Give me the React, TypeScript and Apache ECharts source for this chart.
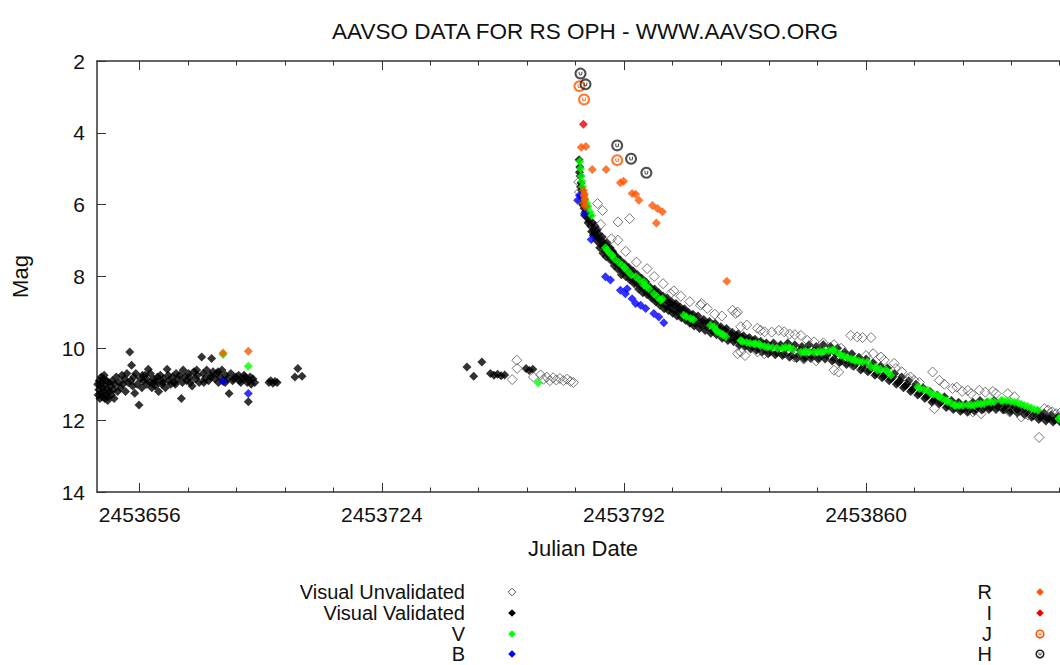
import React, { useEffect, useRef } from 'react';
import * as echarts from 'echarts';

const TITLE = 'AAVSO DATA FOR RS OPH - WWW.AAVSO.ORG';
const X_NAME = 'Julian Date';
const Y_NAME = 'Mag';
const JD0 = 2453000; // data below are [JD - JD0, magnitude]
const X_MIN = 2453644;
const X_MAX = 2453917;
const Y_MIN = 2;
const Y_MAX = 14;
const Y_STEP = 2;
const X_MAJOR_TICKS = [2453656, 2453724, 2453792, 2453860];
const X_MINOR_TICKS = [
  2453669.6, 2453683.2, 2453696.8, 2453710.4, 2453737.6, 2453751.2, 2453764.8, 2453778.4,
  2453805.6, 2453819.2, 2453832.8, 2453846.4, 2453873.6, 2453887.2, 2453900.8, 2453914.4,
];

const visualValidated: [number, number][] = [
  // quiescence before outburst
  [644.2, 11.0], [644.3, 11.3], [644.5, 11.15], [644.6, 10.9], [644.8, 11.4], [645.0, 11.05], [645.1, 11.25],
  [645.2, 10.8], [645.3, 10.95], [645.5, 11.35], [645.6, 11.1], [645.8, 10.85], [646.0, 11.2], [646.0, 10.75],
  [646.2, 11.4], [646.3, 11.0], [646.5, 11.3], [646.7, 10.9], [646.9, 11.15], [647.0, 11.45], [647.1, 11.35],
  [647.3, 10.95], [647.5, 11.2], [647.8, 11.05], [648.0, 11.3], [648.3, 10.9], [648.6, 11.15], [648.8, 11.4],
  [649.0, 11.0], [649.4, 10.8], [649.8, 11.2], [650.2, 10.95], [650.6, 11.1], [651.0, 10.75], [651.3, 11.0],
  [651.7, 10.85], [652.0, 11.2], [652.4, 10.7], [652.8, 10.95], [653.2, 10.1], [653.5, 10.9], [653.7, 10.47],
  [654.0, 11.05], [654.3, 10.8], [654.6, 11.25], [654.9, 10.7], [655.3, 11.0], [655.8, 11.58], [656.2, 10.85],
  [656.6, 11.1], [656.8, 10.75], [657.0, 10.9], [657.5, 10.75], [657.8, 10.85], [658.0, 11.0], [658.4, 10.58],
  [658.9, 10.95], [659.0, 10.7], [659.4, 11.1], [659.9, 10.85], [660.0, 10.95], [660.4, 11.05], [660.9, 10.9],
  [661.0, 10.8], [661.3, 11.2], [661.8, 10.75], [662.2, 11.0], [662.5, 10.95], [662.7, 10.85], [663.2, 11.1],
  [663.7, 10.58], [664.0, 10.75], [664.2, 10.9], [664.7, 11.0], [665.2, 10.8], [665.7, 10.95], [666.0, 11.0],
  [666.2, 10.7], [666.7, 10.85], [667.2, 10.75], [667.7, 11.4], [668.0, 10.95], [668.2, 10.6], [668.7, 10.8],
  [669.2, 10.9], [669.7, 10.7], [670.0, 10.8], [670.2, 10.95], [670.7, 11.05], [671.2, 10.65], [671.7, 10.85],
  [672.0, 10.6], [672.2, 10.75], [672.7, 10.95], [673.4, 10.24], [673.8, 10.7], [674.0, 10.95], [674.3, 10.85],
  [674.8, 10.6], [675.3, 10.9], [675.8, 10.75], [676.0, 10.8], [676.2, 10.28], [676.6, 10.65], [677.1, 10.85],
  [677.6, 10.7], [678.0, 10.65], [678.1, 10.95], [678.6, 10.8], [679.1, 10.6], [679.6, 10.9], [680.0, 10.95],
  [680.1, 10.75], [680.6, 10.85], [681.1, 11.26], [681.6, 10.7], [682.1, 10.9], [682.5, 10.85], [683.0, 10.8],
  [683.8, 10.75], [684.0, 10.9], [684.4, 10.95], [685.0, 10.85], [685.3, 10.75], [685.6, 10.8], [686.2, 10.95],
  [686.5, 11.49], [686.8, 10.9], [687.0, 10.8], [687.3, 11.0], [687.8, 10.85], [688.3, 10.95], [692.3, 10.95],
  [692.8, 10.9], [693.4, 10.97], [694.0, 10.92], [694.6, 10.95], [699.6, 10.8], [700.4, 10.56], [701.6, 10.78],
  // just before outburst
  [747.9, 10.52], [749.8, 10.78], [752.1, 10.38], [754.5, 10.7], [755.5, 10.75], [756.5, 10.72], [757.5, 10.76],
  [758.5, 10.74], [764.5, 10.56], [765.4, 10.62], [766.4, 10.58],
  // decline
  [779.4, 4.75], [779.5, 5.1], [779.6, 4.95], [779.7, 5.2], [779.8, 5.5], [779.9, 5.4], [780.0, 5.75],
  [780.1, 5.6], [780.3, 5.8], [780.4, 6.0], [780.5, 5.95], [780.7, 5.85], [780.8, 6.1], [781.0, 6.3],
  [781.2, 6.2], [781.4, 6.05], [781.7, 6.35], [781.9, 6.5], [782.2, 6.45], [782.4, 6.3], [782.7, 6.6],
  [782.9, 6.75], [783.2, 6.5], [783.4, 6.85], [783.6, 6.75], [783.9, 6.6], [784.1, 6.85], [784.3, 7.0],
  [784.5, 6.7], [784.8, 6.8], [785.0, 6.95], [785.2, 7.2], [785.4, 7.1], [785.7, 7.0], [785.9, 6.9],
  [786.1, 7.35], [786.3, 7.15], [786.6, 7.1], [786.8, 7.3], [787.0, 7.45], [787.2, 7.05], [787.5, 7.2],
  [787.7, 7.4], [788.1, 7.2], [788.3, 7.55], [788.6, 7.5], [788.8, 7.3], [789.0, 7.35], [789.3, 7.7],
  [789.5, 7.6], [789.8, 7.5], [790.0, 7.45], [790.3, 7.8], [790.5, 7.7], [790.8, 7.6], [791.0, 7.55],
  [791.3, 7.95], [791.6, 7.85], [791.9, 7.7], [792.2, 7.65], [792.5, 8.0], [792.8, 7.9], [793.1, 7.8],
  [793.4, 7.75], [793.7, 8.1], [794.0, 8.05], [794.3, 7.9], [794.6, 7.85], [794.9, 8.2], [795.2, 8.15],
  [795.5, 8.05], [795.8, 7.95], [796.1, 8.35], [796.4, 8.25], [796.7, 8.1], [797.0, 8.05], [797.3, 8.45],
  [797.6, 8.35], [797.9, 8.2], [798.2, 8.15], [798.5, 8.5], [798.8, 8.45], [799.1, 8.35], [799.4, 8.3],
  [799.7, 8.6], [800.0, 8.55], [800.3, 8.4], [800.6, 8.35], [800.9, 8.7], [801.2, 8.65], [801.5, 8.5],
  [801.8, 8.45], [802.1, 8.8], [802.4, 8.72], [802.7, 8.6], [803.0, 8.55], [803.3, 8.9], [803.6, 8.8],
  [803.9, 8.65], [804.2, 8.6], [804.5, 8.95], [804.8, 8.85], [805.1, 8.75], [805.4, 8.7], [805.7, 9.02],
  [806.0, 8.95], [806.3, 8.8], [806.6, 8.75], [806.9, 9.1], [807.2, 9.0], [807.5, 8.9], [807.8, 8.85],
  [808.1, 9.15], [808.4, 9.1], [808.7, 8.95], [809.0, 8.9], [809.3, 9.22], [809.6, 9.15], [809.9, 9.05],
  [810.2, 9.0], [810.5, 9.3], [810.8, 9.25], [811.1, 9.1], [811.4, 9.05], [811.7, 9.38], [812.0, 9.3],
  [812.4, 9.2], [812.8, 9.1], [813.2, 9.45], [813.6, 9.35], [814.0, 9.25], [814.4, 9.2], [814.8, 9.5],
  [815.2, 9.4], [815.6, 9.3], [816.0, 9.25], [816.4, 9.58], [816.8, 9.5], [817.2, 9.4], [817.6, 9.3],
  [818.0, 9.62], [818.4, 9.55], [818.8, 9.45], [819.2, 9.4], [819.6, 9.72], [820.0, 9.65], [820.4, 9.5],
  [820.8, 9.45], [821.2, 9.78], [821.6, 9.7], [822.0, 9.6], [822.4, 9.55], [822.8, 9.82], [823.2, 9.75],
  [823.6, 9.65], [824.0, 9.6], [824.4, 9.92], [824.8, 9.85], [825.2, 9.7], [825.6, 9.65], [826.0, 9.95],
  [826.4, 9.9], [826.8, 9.75], [827.2, 9.7], [827.6, 10.02], [828.0, 9.95], [828.4, 9.8], [828.8, 9.75],
  [829.2, 10.05], [829.6, 10.0], [830.0, 9.85], [830.4, 9.8], [830.8, 10.1], [831.2, 10.02], [831.6, 9.9],
  [832.0, 9.85], [832.5, 10.15], [833.0, 10.1], [833.5, 9.95], [834.0, 9.85], [834.5, 10.18], [835.0, 10.12],
  [835.5, 9.98], [836.0, 9.9], [836.5, 10.2], [837.0, 10.15], [837.5, 10.0], [838.0, 9.85], [838.5, 10.25],
  [839.0, 10.2], [839.5, 10.0], [840.0, 9.9], [840.5, 10.28], [841.0, 10.2], [841.5, 10.05], [842.0, 9.95],
  [842.5, 10.3], [843.0, 10.25], [843.5, 10.05], [844.0, 9.9], [844.5, 10.28], [845.0, 10.22], [845.5, 10.05],
  [846.0, 9.95], [846.5, 10.3], [847.0, 10.25], [847.5, 10.05], [848.0, 9.9], [848.5, 10.3], [849.0, 10.2],
  [849.5, 10.1], [850.0, 9.95], [850.5, 10.35], [851.0, 10.3], [851.5, 10.15], [852.0, 10.0], [852.5, 10.4],
  [853.0, 10.35], [853.5, 10.2], [854.0, 10.1], [854.5, 10.45], [855.0, 10.4], [855.5, 10.3], [856.0, 10.15],
  [856.5, 10.5], [857.0, 10.45], [857.5, 10.35], [858.0, 10.25], [858.5, 10.6], [859.0, 10.55], [859.5, 10.45],
  [860.0, 10.3], [860.5, 10.65], [861.0, 10.6], [861.5, 10.5], [862.0, 10.4], [862.5, 10.75], [863.0, 10.7],
  [863.5, 10.6], [864.0, 10.5], [864.5, 10.82], [865.0, 10.78], [865.5, 10.7], [866.0, 10.55], [866.5, 10.9],
  [867.0, 10.85], [867.5, 10.8], [868.0, 10.7], [868.5, 11.0], [869.0, 10.95], [869.5, 10.9], [870.0, 10.8],
  [870.5, 11.1], [871.0, 11.05], [871.5, 11.0], [872.0, 10.9], [872.5, 11.2], [873.0, 11.15], [873.5, 11.1],
  [874.0, 11.0], [874.5, 11.3], [875.0, 11.25], [875.5, 11.2], [876.0, 11.1], [876.5, 11.4], [877.0, 11.35],
  [877.5, 11.3], [878.0, 11.2], [878.5, 11.5], [879.0, 11.45], [879.5, 11.4], [880.0, 11.3], [880.5, 11.55],
  [881.0, 11.5], [881.5, 11.45], [882.0, 11.35], [882.5, 11.65], [883.0, 11.6], [883.5, 11.55], [884.0, 11.45],
  [884.5, 11.7], [885.0, 11.65], [885.5, 11.6], [886.0, 11.5], [886.5, 11.75], [887.0, 11.7], [887.5, 11.65],
  [888.0, 11.55], [888.5, 11.78], [889.0, 11.72], [889.5, 11.6], [890.0, 11.5], [890.5, 11.75], [891.0, 11.7],
  [891.5, 11.6], [892.0, 11.45], [892.5, 11.72], [893.0, 11.68], [893.5, 11.6], [894.0, 11.5], [894.5, 11.7],
  [895.0, 11.65], [895.5, 11.55], [896.0, 11.45], [896.5, 11.7], [897.0, 11.62], [897.5, 11.55], [898.0, 11.5],
  [898.5, 11.72], [899.0, 11.7], [899.5, 11.6], [900.0, 11.55], [900.5, 11.78], [901.0, 11.72], [901.5, 11.65],
  [902.0, 11.6], [902.5, 11.8], [903.0, 11.75], [903.5, 11.7], [904.0, 11.62], [904.5, 11.85], [905.0, 11.8],
  [905.5, 11.75], [906.0, 11.7], [906.5, 11.92], [907.0, 11.88], [907.5, 11.82], [908.0, 11.75], [908.5, 11.98],
  [909.0, 11.92], [909.5, 11.88], [910.0, 11.8], [910.5, 12.02], [911.0, 11.95], [911.5, 11.92], [912.0, 11.85],
  [912.5, 12.05], [913.0, 12.0], [913.5, 11.95], [914.0, 11.9], [914.5, 12.05], [915.0, 11.98], [915.5, 11.92],
  [916.0, 11.85], [916.5, 12.0], [917.0, 11.92],
];

const visualUnvalidated: [number, number][] = [
  [760.6, 10.87], [761.9, 10.33], [762.0, 10.56], [766.6, 10.8], [768.6, 10.74], [769.4, 10.86], [770.3, 10.8],
  [771.2, 10.9], [772.1, 10.82], [773.0, 10.88], [774.0, 10.84], [775.0, 10.9], [776.0, 10.86], [777.0, 10.92],
  [777.8, 10.95],
  [779.3, 5.37], [779.5, 5.65], [780.2, 5.9], [784.6, 5.97], [786.0, 6.16], [790.3, 6.48], [793.6, 6.39],
  [790.3, 6.99], [785.5, 6.55], [788.5, 6.95], [792.5, 7.3], [795.5, 7.6], [798.5, 7.78], [800.5, 8.0],
  [803.0, 8.2], [805.1, 8.48], [806.0, 8.4], [808.0, 8.55], [810.5, 8.7], [813.5, 8.8], [813.8, 8.75],
  [815.4, 8.89], [817.5, 9.05], [819.5, 9.1], [822.5, 8.94], [823.4, 9.03], [823.9, 8.99], [824.8, 9.4],
  [826.5, 9.35], [829.5, 9.44], [830.4, 9.5], [831.5, 9.54], [833.5, 9.55], [835.5, 9.5], [837.0, 9.54],
  [838.5, 9.6], [840.0, 9.62], [841.7, 9.64], [843.5, 9.78], [845.4, 9.82], [855.7, 9.64], [857.5, 9.68],
  [859.0, 9.7], [861.4, 9.7], [848.0, 9.85], [851.0, 9.9], [853.0, 10.0], [823.9, 10.15], [824.8, 10.1],
  [826.0, 10.2], [829.5, 10.1], [831.4, 10.15], [837.9, 10.15], [839.8, 10.24], [842.5, 10.3], [846.0, 10.35],
  [851.0, 10.61], [852.3, 10.66], [856.0, 10.45], [858.0, 10.5], [860.0, 10.2], [862.0, 10.15], [864.2, 10.24],
  [865.1, 10.33], [867.9, 10.42], [868.4, 10.56], [870.0, 10.65], [871.7, 10.84], [872.5, 10.8], [873.5, 10.89],
  [875.0, 10.95], [878.7, 10.66], [880.6, 10.89], [879.2, 11.68], [882.0, 11.0], [884.3, 11.12], [885.5, 11.08],
  [887.0, 11.2], [888.6, 11.17], [889.5, 11.26], [891.8, 11.17], [893.5, 11.22], [895.6, 11.2], [896.5, 11.26],
  [890.0, 11.77], [892.3, 11.82], [899.8, 11.26], [901.7, 11.35], [900.3, 11.77], [902.5, 11.72], [903.6, 11.91],
  [905.5, 11.86], [907.0, 11.8], [908.6, 12.48], [910.1, 11.68], [911.1, 11.72], [912.3, 11.77], [913.4, 11.82],
  [915.0, 11.75], [916.2, 11.9],
];

const bandV: [number, number][] = [
  [679.4, 10.17], [686.5, 10.5], [767.9, 10.96],
  [779.6, 4.8], [779.8, 5.0], [780.0, 5.2], [780.2, 5.35], [780.4, 5.5], [780.6, 5.7], [781.0, 5.85],
  [781.5, 5.95], [781.9, 6.05], [782.4, 6.2], [782.9, 6.3], [786.8, 7.2], [787.3, 7.27], [788.0, 7.35],
  [788.7, 7.41], [789.2, 7.5], [790.5, 7.6], [791.5, 7.69], [792.2, 7.75], [792.9, 7.83], [794.0, 7.95],
  [795.3, 8.01], [796.4, 8.1], [797.6, 8.15], [797.6, 8.24], [798.3, 8.28], [799.0, 8.34], [800.4, 8.48],
  [801.4, 8.57], [802.3, 8.66], [802.8, 8.62], [808.8, 9.08], [809.5, 9.12], [810.7, 9.17], [811.5, 9.2],
  [816.3, 9.36], [817.3, 9.4], [817.8, 9.48], [818.2, 9.54], [819.2, 9.59], [819.8, 9.62], [820.6, 9.68],
  [824.8, 9.78], [825.3, 9.82], [826.5, 9.84], [827.4, 9.86], [828.5, 9.87], [829.0, 9.87], [829.9, 9.87],
  [830.4, 9.92], [831.5, 9.94], [832.5, 9.96], [833.7, 9.98], [835.1, 10.0], [836.5, 10.0], [837.4, 9.98],
  [838.4, 9.98], [839.5, 10.02], [841.7, 10.1], [842.6, 10.1], [843.2, 10.1], [844.0, 10.1], [845.4, 10.1],
  [846.4, 10.1], [847.3, 10.1], [848.2, 10.08], [849.5, 10.07], [850.6, 10.05], [851.0, 10.05], [852.4, 10.15],
  [852.9, 10.19], [853.8, 10.22], [854.8, 10.26], [855.8, 10.3], [856.7, 10.33], [857.1, 10.33], [858.0, 10.36],
  [859.0, 10.38], [860.4, 10.38], [861.4, 10.52], [862.8, 10.52], [863.2, 10.61], [864.0, 10.58], [865.6, 10.61],
  [866.1, 10.66], [867.0, 10.75], [874.5, 11.08], [875.0, 11.12], [876.2, 11.15], [877.3, 11.17], [878.2, 11.26],
  [879.0, 11.28], [880.1, 11.31], [880.6, 11.35], [881.4, 11.4], [882.5, 11.45], [882.9, 11.49], [883.8, 11.52],
  [884.8, 11.59], [885.3, 11.59], [886.2, 11.59], [887.2, 11.59], [888.6, 11.58], [889.5, 11.58], [890.4, 11.59],
  [891.4, 11.54], [892.3, 11.55], [893.2, 11.54], [894.2, 11.49], [895.1, 11.5], [896.0, 11.49], [897.9, 11.45],
  [898.4, 11.45], [899.5, 11.46], [900.6, 11.48], [901.7, 11.5], [902.8, 11.52], [903.6, 11.56], [904.5, 11.59],
  [905.4, 11.62], [906.4, 11.66], [907.3, 11.7], [908.2, 11.72], [914.1, 11.96], [914.8, 11.91],
];

const bandB: [number, number][] = [
  [679.4, 10.92], [686.5, 11.26],
  [779.5, 5.74], [779.0, 5.88], [780.9, 6.25], [782.8, 6.97], [786.8, 8.01], [788.2, 8.1], [791.0, 8.38],
  [792.4, 8.48], [792.9, 8.34], [794.3, 8.62], [795.3, 8.75], [796.7, 8.8], [798.1, 8.89], [800.4, 9.03],
  [801.8, 9.13], [803.2, 9.29],
];

const bandR: [number, number][] = [
  [679.4, 10.13], [686.5, 10.08],
  [780.0, 4.4], [781.3, 4.38], [780.6, 5.6], [780.8, 5.75], [781.0, 5.85], [780.7, 5.95], [781.1, 6.05],
  [780.9, 5.7], [783.1, 5.02], [787.0, 5.02], [791.0, 5.39], [791.9, 5.35], [794.3, 5.69], [795.3, 5.71],
  [796.2, 5.88], [800.0, 6.02], [801.4, 6.11], [802.8, 6.2], [801.1, 6.51], [820.9, 8.13],
];

const bandI: [number, number][] = [[780.6, 3.76]];

const bandJ: [number, number][] = [[779.5, 2.7], [780.8, 3.07], [790.1, 4.76]];

const bandH: [number, number][] = [[779.8, 2.35], [781.2, 2.65], [790.1, 4.35], [794.0, 4.72], [798.3, 5.11]];

const LEGEND_LEFT = ['Visual Unvalidated', 'Visual Validated', 'V', 'B'];
const LEGEND_RIGHT = ['R', 'I', 'J', 'H'];

const RING_PATH =
  'M10 0A10 10 0 1 1 9.99 0ZM10 3.4A6.6 6.6 0 1 0 10.01 3.4ZM6.8 6.8H8.6V10A1.4 1.4 0 0 0 11.4 10V6.8H13.2V10A3.2 3.2 0 0 1 6.8 10Z';

const FONT = '"Liberation Sans", Arial, Helvetica, sans-serif';
const TEXT_COLOR = '#111';
const AXIS_COLOR = '#333';

const toJD = (arr: [number, number][]) => arr.map(([d, m]) => [JD0 + d, m]);

export default function App() {
  const ref = useRef<HTMLDivElement>(null);

  useEffect(() => {
    if (!ref.current) return;
    try {
      echarts.graphic.registerShape('ringmark', echarts.graphic.extendPath(RING_PATH, {}) as any);
    } catch (e) {
      /* already registered */
    }
    const chart = echarts.init(ref.current, undefined, { renderer: 'svg' });

    const diamond = (x: number, y: number, r: number, fill: string, stroke?: string) => ({
      type: 'polygon',
      shape: { points: [[x, y - r], [x + r, y], [x, y + r], [x - r, y]] },
      style: stroke ? { fill: 'none', stroke, lineWidth: 1 } : { fill },
      silent: true,
    });
    const ringMark = (x: number, y: number, color: string) => ({
      type: 'ringmark',
      x: x - 4.5,
      y: y - 4.5,
      scaleX: 0.45,
      scaleY: 0.45,
      style: { fill: color },
      silent: true,
    });
    const legText = (text: string, x: number, y: number) => ({
      type: 'text',
      x,
      y,
      style: {
        text,
        fill: TEXT_COLOR,
        font: `20px ${FONT}`,
        textAlign: 'right',
        textVerticalAlign: 'middle',
      },
      silent: true,
    });
    const rows = [592, 613, 634, 654];
    const legendGraphics: any[] = [];
    LEGEND_LEFT.forEach((t, i) => legendGraphics.push(legText(t, 465, rows[i])));
    LEGEND_RIGHT.forEach((t, i) => legendGraphics.push(legText(t, 992, rows[i])));
    legendGraphics.push(diamond(512, rows[0], 3.8, '', '#555'));
    legendGraphics.push(diamond(512, rows[1], 3.8, '#000'));
    legendGraphics.push(diamond(512, rows[2], 3.8, '#00ff00'));
    legendGraphics.push(diamond(512, rows[3], 3.8, '#0000ff'));
    legendGraphics.push(diamond(1040, rows[0], 3.8, '#ff5500'));
    legendGraphics.push(diamond(1040, rows[1], 3.8, '#ee0000'));
    legendGraphics.push(ringMark(1040, rows[2], '#ff5500'));
    legendGraphics.push(ringMark(1040, rows[3], '#222'));

    const xCommon = {
      type: 'value',
      min: X_MIN,
      max: X_MAX,
      splitLine: { show: false },
    };

    const scatter = (name: string, data: [number, number][], extra: any) => ({
      name,
      type: 'scatter',
      data: toJD(data),
      silent: true,
      emphasis: { disabled: true },
      ...extra,
    });

    chart.setOption({
      animation: false,
      title: {
        text: TITLE,
        left: 580,
        top: 15,
        textAlign: 'center',
        textStyle: { fontFamily: FONT, fontSize: 22.5, fontWeight: 'normal', color: TEXT_COLOR },
      },
      grid: { left: 97, right: 11, top: 61, bottom: 173, show: false },
      xAxis: [
        {
          ...xCommon,
          position: 'bottom',
          name: X_NAME,
          nameLocation: 'middle',
          nameGap: 45,
          nameTextStyle: { fontFamily: FONT, fontSize: 22, color: TEXT_COLOR },
          axisLine: { show: true, lineStyle: { color: AXIS_COLOR, width: 1.5 } },
          axisTick: {
            show: true,
            inside: true,
            length: 9,
            customValues: X_MAJOR_TICKS,
            lineStyle: { color: AXIS_COLOR, width: 1 },
          },
          axisLabel: {
            show: true,
            margin: 12,
            customValues: X_MAJOR_TICKS,
            formatter: (v: number) => String(Math.round(v)),
            fontFamily: FONT,
            fontSize: 21,
            color: TEXT_COLOR,
          },
        },
        {
          ...xCommon,
          position: 'bottom',
          axisLine: { show: false },
          axisTick: {
            show: true,
            inside: true,
            length: 4.5,
            customValues: X_MINOR_TICKS,
            lineStyle: { color: AXIS_COLOR, width: 1 },
          },
          axisLabel: { show: false },
        },
        {
          ...xCommon,
          position: 'top',
          axisLine: { show: true, lineStyle: { color: AXIS_COLOR, width: 1.5 } },
          axisTick: {
            show: true,
            inside: true,
            length: 9,
            customValues: X_MAJOR_TICKS,
            lineStyle: { color: AXIS_COLOR, width: 1 },
          },
          axisLabel: { show: false },
        },
        {
          ...xCommon,
          position: 'top',
          axisLine: { show: false },
          axisTick: {
            show: true,
            inside: true,
            length: 4.5,
            customValues: X_MINOR_TICKS,
            lineStyle: { color: AXIS_COLOR, width: 1 },
          },
          axisLabel: { show: false },
        },
      ],
      yAxis: [
        {
          type: 'value',
          inverse: true,
          min: Y_MIN,
          max: Y_MAX,
          interval: Y_STEP,
          name: Y_NAME,
          nameLocation: 'middle',
          nameGap: 66,
          nameRotate: 90,
          nameTextStyle: { fontFamily: FONT, fontSize: 22, color: TEXT_COLOR },
          axisLine: { show: true, lineStyle: { color: AXIS_COLOR, width: 1.5 } },
          axisTick: { show: true, inside: true, length: 9, lineStyle: { color: AXIS_COLOR, width: 1 } },
          axisLabel: { margin: 12, fontFamily: FONT, fontSize: 21, color: TEXT_COLOR },
          splitLine: { show: false },
        },
      ],
      series: [
        scatter('Visual Validated', visualValidated, {
          symbol: 'diamond',
          symbolSize: 9,
          itemStyle: { color: '#000' },
        }),
        scatter('Visual Unvalidated', visualUnvalidated, {
          symbol: 'diamond',
          symbolSize: 10,
          itemStyle: { color: 'rgba(0,0,0,0)', borderColor: '#555', borderWidth: 1 },
        }),
        scatter('V', bandV, { symbol: 'diamond', symbolSize: 9, itemStyle: { color: '#00ff00' } }),
        scatter('B', bandB, { symbol: 'diamond', symbolSize: 9, itemStyle: { color: '#0000ff' } }),
        scatter('R', bandR, { symbol: 'diamond', symbolSize: 9, itemStyle: { color: '#ff5500' } }),
        scatter('I', bandI, { symbol: 'diamond', symbolSize: 9, itemStyle: { color: '#ee0000' } }),
        scatter('J', bandJ, { symbol: 'path://' + RING_PATH, symbolSize: 12, itemStyle: { color: '#ff5500' } }),
        scatter('H', bandH, { symbol: 'path://' + RING_PATH, symbolSize: 12, itemStyle: { color: '#222' } }),
      ],
      graphic: legendGraphics,
    });

    return () => chart.dispose();
  }, []);

  return (
    <div
      style={{ position: 'absolute', left: 0, top: 0, width: 1060, height: 665, overflow: 'hidden', background: '#fff' }}
    >
      <div ref={ref} style={{ width: 1080, height: 665 }} />
    </div>
  );
}
